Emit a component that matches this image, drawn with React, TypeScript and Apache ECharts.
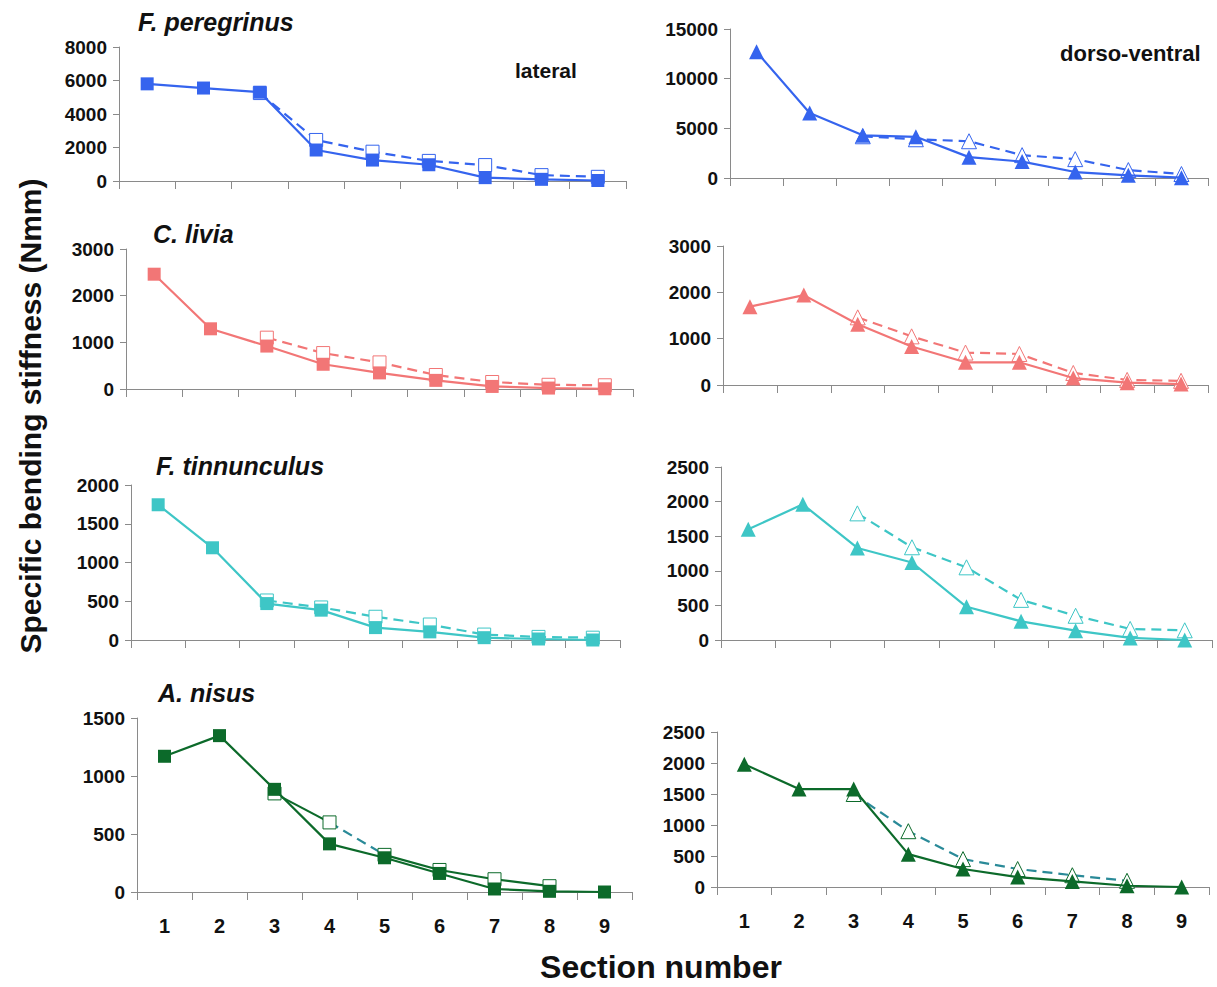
import React, { useEffect, useRef } from "react";
import * as echarts from "echarts";

const sections = ["1", "2", "3", "4", "5", "6", "7", "8", "9"];

// Filled markers (solid line) and open markers (dashed line), sections 1..9
const peregrinusLatSolid = [5800, 5550, 5300, 1850, 1250, 970, 200, 100, 30];
const peregrinusLatOpen = [null, null, 5250, 2450, 1750, 1200, 950, 350, 250];
const peregrinusDvSolid = [12700, 6550, 4300, 4150, 2100, 1650, 600, 270, 30];
const peregrinusDvOpen = [null, null, 4200, 3900, 3700, 2300, 1900, 800, 400];
const liviaLatSolid = [2460, 1290, 920, 530, 345, 185, 55, 20, 5];
const liviaLatOpen = [null, null, 1100, 770, 570, 300, 150, 90, 80];
const liviaDvSolid = [1690, 1940, 1310, 830, 490, 490, 150, 50, 20];
const liviaDvOpen = [null, null, 1460, 1050, 700, 670, 260, 110, 90];
const tinnLatSolid = [1745, 1190, 470, 385, 160, 105, 30, 13, 0];
const tinnLatOpen = [null, null, 510, 420, 300, 200, 70, 40, 30];
const tinnDvSolid = [1600, 1960, 1330, 1120, 480, 270, 135, 30, 0];
const tinnDvOpen = [null, null, 1830, 1340, 1050, 580, 350, 160, 140];
const nisusLatSolid = [1170, 1348, 885, 415, 295, 160, 26, 6, 0];
const nisusLatOpen = [null, null, 850, 600, 320, 190, 110, 50, null];
const nisusDvSolid = [1980, 1580, 1580, 530, 290, 160, 90, 20, 0];
const nisusDvOpen = [null, null, 1500, 900, 450, 290, 190, 100, null];

const yMaxes = [8000, 15000, 3000, 3000, 2000, 2500, 1500, 2500];
const ySteps = [2000, 5000, 1000, 1000, 500, 500, 500, 500];

const species = ["F. peregrinus", "C. livia", "F. tinnunculus", "A. nisus"];

const FONT = "'Liberation Sans', Arial, sans-serif";

const BLUE = "#3564ee";
const PINK = "#f27676";
const CYAN = "#3ec6c6";
const GREEN = "#0c6a2a";
const TEAL = "#2a8a98";

// grid boxes: left, top, width, height
const grids = [
  [119, 47, 507, 134],
  [730, 29, 478, 149],
  [126, 249, 507, 140],
  [723, 246, 485, 139],
  [131, 485, 489, 155],
  [721, 467, 491, 173],
  [137, 718, 495, 174],
  [717, 732, 492, 155],
];

function solidSeries(idx: number, data: (number | null)[], color: string, symbol: string, size: number) {
  return {
    type: "line",
    xAxisIndex: idx,
    yAxisIndex: idx,
    data,
    symbol,
    symbolSize: size,
    clip: false,
    z: 5,
    lineStyle: { color, width: 2.2 },
    itemStyle: { color, borderWidth: 0 },
  };
}

function openSeries(
  idx: number,
  data: (number | null)[],
  color: string,
  lineColor: string,
  symbol: string,
  size: number,
  dashed: boolean,
  showSymbol = true
) {
  return {
    type: "line",
    xAxisIndex: idx,
    yAxisIndex: idx,
    data,
    symbol: showSymbol ? symbol : "none",
    symbolSize: size,
    clip: false,
    z: 3,
    lineStyle: { color: lineColor, width: 2.2, type: dashed ? [10, 6] : "solid" },
    itemStyle: { color: "#ffffff", borderColor: color, borderWidth: 1 },
  };
}

function pick(arr: (number | null)[], keep: number[]) {
  return arr.map((v, i) => (keep.includes(i) ? v : null));
}

export default function App() {
  const ref = useRef<HTMLDivElement>(null);

  useEffect(() => {
    if (!ref.current) return;
    const chart = echarts.init(ref.current, undefined, { renderer: "svg" });

    const gridOpt = grids.map(([left, top, width, height]) => ({ left, top, width, height }));

    const xAxes = grids.map((_, i) => ({
      type: "category",
      gridIndex: i,
      data: sections,
      boundaryGap: true,
      axisLine: { show: true, lineStyle: { color: "#8a8a8a", width: 1 } },
      axisTick: { show: true, length: 8, lineStyle: { color: "#8a8a8a" } },
      axisLabel: {
        show: i >= 6,
        margin: 24,
        fontSize: 20,
        fontWeight: "bold",
        color: "#111",
        fontFamily: FONT,
      },
      splitLine: { show: false },
    }));

    const yAxes = grids.map((_, i) => ({
      type: "value",
      gridIndex: i,
      min: 0,
      max: yMaxes[i],
      interval: ySteps[i],
      axisLine: { show: true, lineStyle: { color: "#8a8a8a", width: 1 } },
      axisTick: { show: true, length: 6, lineStyle: { color: "#8a8a8a" } },
      axisLabel: {
        margin: 12,
        fontSize: 19,
        fontWeight: "bold",
        color: "#111",
        fontFamily: FONT,
        formatter: (v: number) => String(v),
      },
      splitLine: { show: false },
    }));

    const SQ = 13;
    const TR = 15;

    const series: any[] = [
      openSeries(0, peregrinusLatOpen, BLUE, BLUE, "rect", SQ, true),
      solidSeries(0, peregrinusLatSolid, BLUE, "rect", SQ),
      openSeries(1, peregrinusDvOpen, BLUE, BLUE, "triangle", TR, true),
      solidSeries(1, peregrinusDvSolid, BLUE, "triangle", TR),
      openSeries(2, liviaLatOpen, PINK, PINK, "rect", SQ, true),
      solidSeries(2, liviaLatSolid, PINK, "rect", SQ),
      openSeries(3, liviaDvOpen, PINK, PINK, "triangle", TR, true),
      solidSeries(3, liviaDvSolid, PINK, "triangle", TR),
      openSeries(4, tinnLatOpen, CYAN, CYAN, "rect", SQ, true),
      solidSeries(4, tinnLatSolid, CYAN, "rect", SQ),
      openSeries(5, tinnDvOpen, CYAN, CYAN, "triangle", TR, true),
      solidSeries(5, tinnDvSolid, CYAN, "triangle", TR),
      openSeries(6, pick(nisusLatOpen, [3, 4]), GREEN, TEAL, "rect", SQ, true, false),
      openSeries(6, pick(nisusLatOpen, [2, 3]), GREEN, GREEN, "rect", SQ, false),
      openSeries(6, pick(nisusLatOpen, [4, 5, 6, 7]), GREEN, GREEN, "rect", SQ, false),
      solidSeries(6, nisusLatSolid, GREEN, "rect", SQ),
      openSeries(7, nisusDvOpen, GREEN, TEAL, "triangle", TR, true),
      solidSeries(7, nisusDvSolid, GREEN, "triangle", TR),
    ];

    const titleStyle = (text: string, x: number, y: number) => ({
      type: "text",
      x,
      y,
      style: {
        text,
        fill: "#111",
        font: `italic bold 25px ${FONT}`,
        textAlign: "left",
        textVerticalAlign: "middle",
      },
    });

    const graphic: any[] = [
      titleStyle(species[0], 138, 22),
      titleStyle(species[1], 153, 234),
      titleStyle(species[2], 156, 466),
      titleStyle(species[3], 158, 693),
      {
        type: "text",
        x: 515,
        y: 70,
        style: { text: "lateral", fill: "#111", font: `bold 21px ${FONT}`, textAlign: "left", textVerticalAlign: "middle" },
      },
      {
        type: "text",
        x: 1060,
        y: 53,
        style: { text: "dorso-ventral", fill: "#111", font: `bold 22px ${FONT}`, textAlign: "left", textVerticalAlign: "middle" },
      },
      {
        type: "text",
        x: 661,
        y: 967,
        style: { text: "Section number", fill: "#111", font: `bold 32px ${FONT}`, textAlign: "center", textVerticalAlign: "middle" },
      },
      {
        type: "text",
        x: 30,
        y: 416,
        rotation: Math.PI / 2,
        style: {
          text: "Specific bending stiffness (Nmm)",
          fill: "#111",
          font: `bold 30px ${FONT}`,
          textAlign: "center",
          textVerticalAlign: "middle",
        },
      },
    ];

    chart.setOption({
      animation: false,
      backgroundColor: "#ffffff",
      grid: gridOpt,
      xAxis: xAxes,
      yAxis: yAxes,
      series,
      graphic,
    });

    return () => chart.dispose();
  }, []);

  return (
    <div
      ref={ref}
      style={{ position: "fixed", left: 0, top: 0, width: 1217, height: 987, background: "#fff" }}
    />
  );
}
